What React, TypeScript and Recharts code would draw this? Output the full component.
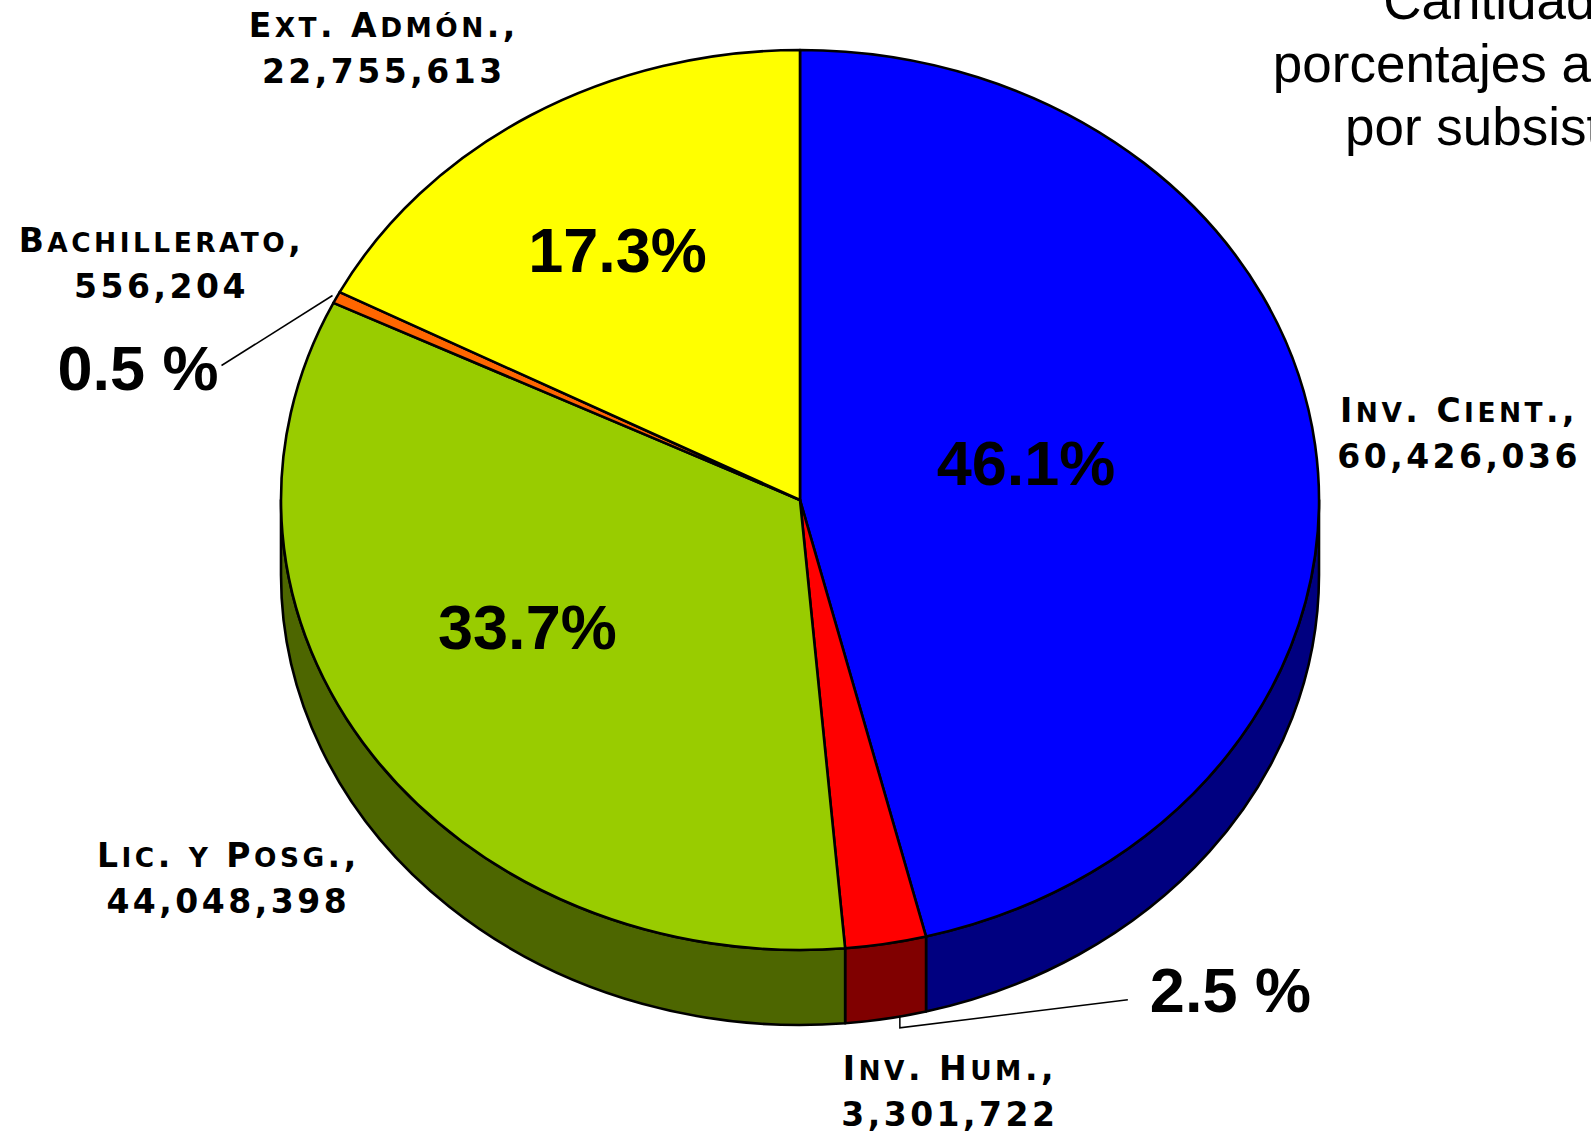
import React from "react";
import { PieChart, Pie, Cell } from "recharts";

const subsystems = ["Inv. Cient.", "Inv. Hum.", "Lic. y Posg.", "Bachillerato", "Ext. Admón."];
const amounts = [60426036, 3301722, 44048398, 556204, 22755613];
const pctLabels = ["46.1%", "2.5 %", "33.7%", "0.5 %", "17.3%"];
const titleLines = ["Cantidades y", "porcentajes asignados", "por subsistemas"];

const topColors = ["#0000FF", "#FF0000", "#99CC00", "#FF6600", "#FFFF00"];
const sideColors = ["#000080", "#800000", "#4D6600", "#993D00", "#999900"];

const chartData = subsystems.map((name, i) => ({ name, value: amounts[i] }));

const W = 1591;
const H = 1134;
const Y_RATIO = 450 / 519; // tilt of the top face
const DEPTH = 75;
const EDGE = 2.6;

function pt(cx: number, cy: number, rx: number, ry: number, a: number) {
  const r = (a * Math.PI) / 180;
  return [cx + rx * Math.cos(r), cy - ry * Math.sin(r)];
}

/* elliptical top face of a slice */
function TopSlice(props: any) {
  const { cx, cy, outerRadius, startAngle, endAngle, fill } = props;
  const rx = outerRadius;
  const ry = rx * Y_RATIO;
  const s = Math.max(startAngle, endAngle);
  const e = Math.min(startAngle, endAngle);
  const p1 = pt(cx, cy, rx, ry, s);
  const p2 = pt(cx, cy, rx, ry, e);
  const large = s - e > 180 ? 1 : 0;
  const d = `M${cx},${cy} L${p1[0]},${p1[1]} A${rx},${ry} 0 ${large} 1 ${p2[0]},${p2[1]} Z`;
  return <path d={d} fill={fill} stroke="#000" strokeWidth={EDGE} strokeLinejoin="round" />;
}

/* side wall, only for the part of the slice facing the viewer */
function WallSlice(props: any) {
  const { cx, cy, outerRadius, startAngle, endAngle, fill } = props;
  const rx = outerRadius;
  const ry = rx * Y_RATIO;
  const s = Math.max(startAngle, endAngle);
  const e = Math.min(startAngle, endAngle);
  const paths: string[] = [];
  for (const k of [-1, 0, 1]) {
    const a = Math.min(s, 360 * k);
    const b = Math.max(e, -180 + 360 * k);
    if (a > b + 0.01) {
      const pa = pt(cx, cy, rx, ry, a);
      const pb = pt(cx, cy, rx, ry, b);
      paths.push(
        `M${pa[0]},${pa[1]} A${rx},${ry} 0 0 1 ${pb[0]},${pb[1]} L${pb[0]},${pb[1] + DEPTH} A${rx},${ry} 0 0 0 ${pa[0]},${pa[1] + DEPTH} Z`
      );
    }
  }
  if (!paths.length) return <g />;
  return (
    <g>
      {paths.map((d, i) => (
        <path key={i} d={d} fill={fill} stroke="#000" strokeWidth={EDGE} strokeLinejoin="round" />
      ))}
    </g>
  );
}

/* fake small caps: lowercase runs drawn as smaller capitals */
function smallCaps(str: string, size: number) {
  const runs: { t: string; low: boolean }[] = [];
  for (const ch of str) {
    const low = ch !== ch.toUpperCase();
    const last = runs[runs.length - 1];
    if (last && last.low === low) last.t += ch;
    else runs.push({ t: ch, low });
  }
  return runs.map((r, i) => (
    <tspan key={i} fontSize={r.low ? size * 0.8 : size}>
      {r.low ? r.t.toUpperCase() : r.t}
    </tspan>
  ));
}

// label placement tweaks: name label offset from rim point; pct label radius factor + offset
const NAME_NUDGE = [[144, -23], [64, 136], [-144, 112], [-175, -45], [-147, -78]];
const PCT_PLACE = [
  { f: 0.6, dx: -83, dy: 18, anchor: "middle" },
  { f: 1, dx: 264, dy: 68, anchor: "start" },
  { f: 0.6, dx: -16, dy: -4, anchor: "middle" },
  { f: 1, dx: -118, dy: 93, anchor: "end" },
  { f: 0.6, dx: -21, dy: 3, anchor: "middle" },
];
const LEADERS: Record<number, number[][]> = {
  1: [[14, 72], [14, 84], [242, 56]],
  3: [[-4, -2], [-115, 68]],
};
const NAME_SIZE = 33;

function renderLabel(props: any) {
  const { cx, cy, midAngle, outerRadius, index } = props;
  const rx = outerRadius;
  const ry = rx * Y_RATIO;
  const edge = pt(cx, cy, rx, ry, midAngle);
  const [nx, ny] = NAME_NUDGE[index];
  const pp = PCT_PLACE[index];
  const base = pt(cx, cy, rx * pp.f, ry * pp.f, midAngle);
  const leader = LEADERS[index];
  const nameStyle = {
    fontFamily: "'DejaVu Sans', sans-serif",
    fontWeight: "bold" as const,
    fontSize: NAME_SIZE,
    letterSpacing: 3.5,
  };
  return (
    <g key={`lbl-${index}`}>
      {leader && (
        <polyline
          points={leader.map(([x, y]) => `${edge[0] + x},${edge[1] + y}`).join(" ")}
          fill="none"
          stroke="#000"
          strokeWidth={1.5}
        />
      )}
      <text
        x={base[0] + pp.dx}
        y={base[1] + pp.dy}
        textAnchor={pp.anchor as any}
        fontFamily="Arial, 'Liberation Sans', sans-serif"
        fontWeight="bold"
        fontSize={63}
        fill="#000"
      >
        {pctLabels[index]}
      </text>
      <text x={edge[0] + nx} y={edge[1] + ny} textAnchor="middle" style={nameStyle} fill="#000">
        {smallCaps(subsystems[index] + ",", NAME_SIZE)}
      </text>
      <text x={edge[0] + nx} y={edge[1] + ny + 46} textAnchor="middle" style={nameStyle} fill="#000">
        {amounts[index].toLocaleString("en-US")}
      </text>
    </g>
  );
}

export default function App() {
  return (
    <div
      style={{
        position: "absolute",
        left: 0,
        top: 0,
        width: W,
        height: H,
        overflow: "hidden",
        background: "#fff",
      }}
    >
      <PieChart width={W} height={H} margin={{ top: 0, right: 0, bottom: 0, left: 0 }}>
        <Pie
          data={chartData}
          dataKey="value"
          nameKey="name"
          cx={800}
          cy={500}
          outerRadius={519}
          startAngle={90}
          endAngle={-270}
          isAnimationActive={false}
          shape={WallSlice}
          activeShape={WallSlice}
          inactiveShape={WallSlice}
          labelLine={false}
        >
          {chartData.map((d, i) => (
            <Cell key={d.name} fill={sideColors[i]} />
          ))}
        </Pie>
        <Pie
          data={chartData}
          dataKey="value"
          nameKey="name"
          cx={800}
          cy={500}
          outerRadius={519}
          startAngle={90}
          endAngle={-270}
          isAnimationActive={false}
          shape={TopSlice}
          activeShape={TopSlice}
          inactiveShape={TopSlice}
          labelLine={false}
          label={renderLabel}
        >
          {chartData.map((d, i) => (
            <Cell key={d.name} fill={topColors[i]} />
          ))}
        </Pie>
      </PieChart>
      {/* title, centred past the right edge like the slide */}
      <svg
        width={W}
        height={H}
        style={{ position: "absolute", left: 0, top: 0, pointerEvents: "none" }}
      >
        {titleLines.map((line, i) => (
          <text
            key={line}
            x={1538}
            y={19 + i * 63}
            textAnchor="middle"
            fontFamily="Arial, 'Liberation Sans', sans-serif"
            fontSize={53}
            fill="#000"
          >
            {line}
          </text>
        ))}
      </svg>
    </div>
  );
}
